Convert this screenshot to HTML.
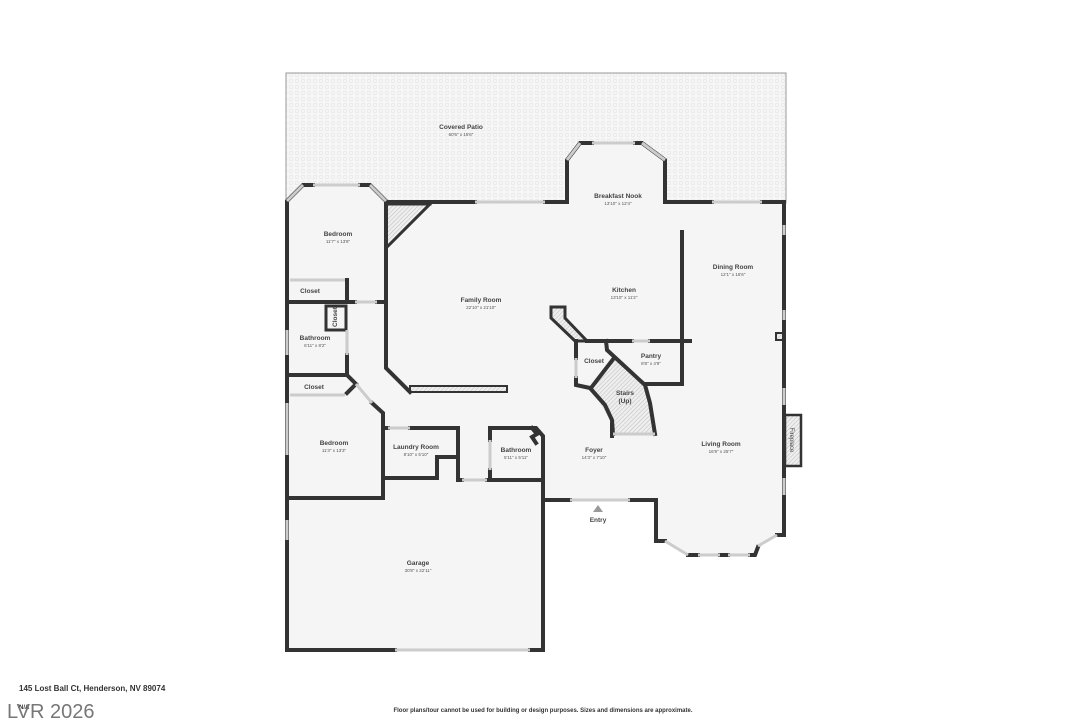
<!DOCTYPE html>
<html><head><meta charset="utf-8"><style>
html,body{margin:0;padding:0;background:#fff;width:1086px;height:724px;overflow:hidden}
svg{display:block}
text{font-family:"Liberation Sans",sans-serif;fill:#444}
.n{font-size:6.5px;font-weight:bold;text-anchor:middle}
.d{font-size:4.5px;text-anchor:middle;fill:#555}
.w{stroke:#333;stroke-width:4;fill:none;stroke-linecap:square;stroke-linejoin:miter}
.g{stroke:#ccc;stroke-width:3;fill:none}
</style></head><body>
<svg width="1086" height="724" viewBox="0 0 1086 724" xmlns="http://www.w3.org/2000/svg">
<defs>
<pattern id="p" width="6" height="6" patternUnits="userSpaceOnUse"><rect width="6" height="6" fill="#f6f6f6"/><circle cx="3" cy="3" r="1.8" fill="none" stroke="#e4e4e4" stroke-width="0.6"/></pattern>
<pattern id="h" width="3" height="3" patternUnits="userSpaceOnUse" patternTransform="rotate(45)"><rect width="3" height="3" fill="#eee"/><line x1="0" y1="0" x2="0" y2="3" stroke="#aaa" stroke-width="0.7"/></pattern>
</defs>
<rect x="286" y="73" width="500" height="130" fill="url(#p)" stroke="#999" stroke-width="1"/>
<polygon points="287,201 303,185 370,185 386,201 567,202 567,160 580,143 642,143 665,160 665,202 784,202 784,535 777,535 758,546 755,555 688,555 665,541 656,541 656,500 543,500 543,650 287,650" fill="#f5f5f5"/>
<polygon points="388,204 430,204 388,246" fill="url(#h)"/>
<rect x="410" y="386" width="97" height="6" fill="url(#h)" stroke="#333" stroke-width="2"/>
<polygon points="551,307 565,307 565,318 587,341 575,341 551,318" fill="url(#h)" stroke="#333" stroke-width="3"/>
<polygon points="614,358 645,385 650,403 655,434 613,434 610,420 591,388" fill="url(#h)"/>
<rect x="785" y="415" width="16" height="51" fill="url(#h)" stroke="#333" stroke-width="2.5"/>
<text transform="translate(790,440) rotate(90)" style="font-size:6px;text-anchor:middle">Fireplace</text>
<rect x="776" y="333" width="7" height="7" fill="url(#h)" stroke="#333" stroke-width="2"/>
<g class="w">
<polyline points="287,650 287,201 303,185 313,185"/>
<polyline points="360,185 370,185 386,201 386,368 410,392"/>
<polyline points="386,202 475,202"/>
<polyline points="545,202 567,202 567,160 580,143 592,143"/>
<polyline points="635,143 642,143 665,160 665,202 712,202"/>
<polyline points="762,202 784,202 784,535 777,535"/>
<line x1="386" y1="204" x2="430" y2="204" stroke-width="3"/>
<line x1="388" y1="246" x2="430" y2="204" stroke-width="3"/>
<polyline points="347,280 347,302 287,302"/>
<polyline points="347,302 355,302"/>
<polyline points="377,302 386,302"/>
<rect x="326" y="306" width="20" height="24" stroke-width="3"/>
<polyline points="347,355 347,375 287,375"/>
<polyline points="347,375 356,384 347,393"/>
<polyline points="372,403 383,413 383,498 287,498"/>
<polyline points="383,428 388,428"/>
<polyline points="410,428 458,428 458,480 462,480"/>
<polyline points="385,478 437,478 437,457 458,457"/>
<polyline points="487,480 543,480"/>
<polyline points="490,480 490,470"/>
<polyline points="490,440 490,428 536,428 543,436 543,650 530,650"/>
<polyline points="287,650 395,650"/>
<polyline points="532,428 537,434 532,437 536,443"/>
<polyline points="543,500 570,500"/>
<polyline points="630,500 656,500 656,541 665,541"/>
<polyline points="688,555 698,555"/>
<polyline points="720,555 728,555"/>
<polyline points="750,555 755,555 758,547"/>
<polyline points="682,232 682,384 645,384"/>
<polyline points="587,341 632,341"/>
<polyline points="650,341 690,341"/>
<polyline points="576,341 576,358"/>
<polyline points="576,378 576,385 590,388 605,405 612,420 613,434"/>
<polyline points="591,388 614,358"/>
<polyline points="606,341 607,350 645,385 650,403 655,434"/>
<line x1="612" y1="424" x2="612" y2="436" stroke-width="4"/>
</g>
<g class="g">
<line x1="313" y1="185" x2="360" y2="185"/>
<line x1="475" y1="202" x2="545" y2="202"/>
<line x1="592" y1="143" x2="635" y2="143"/>
<line x1="712" y1="202" x2="762" y2="202"/>
<line x1="290" y1="280" x2="345" y2="280"/>
<line x1="355" y1="302" x2="377" y2="302"/>
<line x1="347" y1="330" x2="347" y2="355"/>
<line x1="287" y1="330" x2="287" y2="355"/>
<line x1="290" y1="395" x2="345" y2="395"/>
<line x1="356" y1="384" x2="372" y2="403"/>
<line x1="287" y1="403" x2="287" y2="455"/>
<line x1="388" y1="428" x2="410" y2="428"/>
<line x1="462" y1="480" x2="487" y2="480"/>
<line x1="490" y1="440" x2="490" y2="470"/>
<line x1="287" y1="520" x2="287" y2="540"/>
<line x1="395" y1="650" x2="530" y2="650"/>
<line x1="570" y1="500" x2="630" y2="500"/>
<line x1="665" y1="541" x2="688" y2="555"/>
<line x1="698" y1="555" x2="720" y2="555"/>
<line x1="728" y1="555" x2="750" y2="555"/>
<line x1="758" y1="546" x2="777" y2="535"/>
<line x1="632" y1="341" x2="650" y2="341"/>
<line x1="576" y1="358" x2="576" y2="378"/>
<line x1="613" y1="434" x2="655" y2="434"/>
<line x1="784" y1="225" x2="784" y2="235"/>
<line x1="784" y1="310" x2="784" y2="320"/>
<line x1="784" y1="388" x2="784" y2="405"/>
<line x1="784" y1="478" x2="784" y2="495"/>
<line x1="567" y1="160" x2="580" y2="143"/>
<line x1="642" y1="143" x2="665" y2="160"/>
<line x1="287" y1="201" x2="303" y2="185"/>
<line x1="370" y1="185" x2="386" y2="201"/>
</g>
<polygon points="598,505 593,512 603,512" fill="#999"/>
<text class="n" x="461" y="129">Covered Patio</text><text class="d" x="461" y="136">60'6" x 15'6"</text>
<text class="n" x="338" y="236">Bedroom</text><text class="d" x="338" y="243">11'7" x 13'8"</text>
<text class="n" x="310" y="293">Closet</text>
<text transform="translate(337,317) rotate(-90)" class="n">Closet</text>
<text class="n" x="315" y="340">Bathroom</text><text class="d" x="315" y="347">6'11" x 8'2"</text>
<text class="n" x="314" y="389">Closet</text>
<text class="n" x="334" y="445">Bedroom</text><text class="d" x="334" y="452">11'3" x 13'3"</text>
<text class="n" x="416" y="449">Laundry Room</text><text class="d" x="416" y="456">8'10" x 5'10"</text>
<text class="n" x="516" y="452">Bathroom</text><text class="d" x="516" y="459">5'11" x 5'11"</text>
<text class="n" x="481" y="302">Family Room</text><text class="d" x="481" y="309">22'10" x 21'10"</text>
<text class="n" x="618" y="198">Breakfast Nook</text><text class="d" x="618" y="205">13'10" x 12'4"</text>
<text class="n" x="624" y="292">Kitchen</text><text class="d" x="624" y="299">13'10" x 11'2"</text>
<text class="n" x="733" y="269">Dining Room</text><text class="d" x="733" y="276">12'1" x 16'6"</text>
<text class="n" x="594" y="363">Closet</text>
<text class="n" x="651" y="358">Pantry</text><text class="d" x="651" y="365">8'8" x 4'9"</text>
<text class="n" x="625" y="395">Stairs</text><text class="n" x="625" y="403">(Up)</text>
<text class="n" x="594" y="452">Foyer</text><text class="d" x="594" y="459">14'3" x 7'10"</text>
<text class="n" x="721" y="446">Living Room</text><text class="d" x="721" y="453">16'9" x 25'7"</text>
<text class="n" x="598" y="522">Entry</text>
<text class="n" x="418" y="565">Garage</text><text class="d" x="418" y="572">30'8" x 22'11"</text>
<text x="19" y="691" style="font-size:8px;font-weight:bold;fill:#333">145 Lost Ball Ct, Henderson, NV 89074</text>
<text x="19" y="709" style="font-size:6px;font-weight:bold;fill:#333">N/A</text>
<text x="7" y="718" style="font-size:20px;fill:#777">LVR 2026</text>
<text x="543" y="712" style="font-size:6px;font-weight:bold;fill:#333;text-anchor:middle">Floor plans/tour cannot be used for building or design purposes. Sizes and dimensions are approximate.</text>
</svg>
</body></html>
